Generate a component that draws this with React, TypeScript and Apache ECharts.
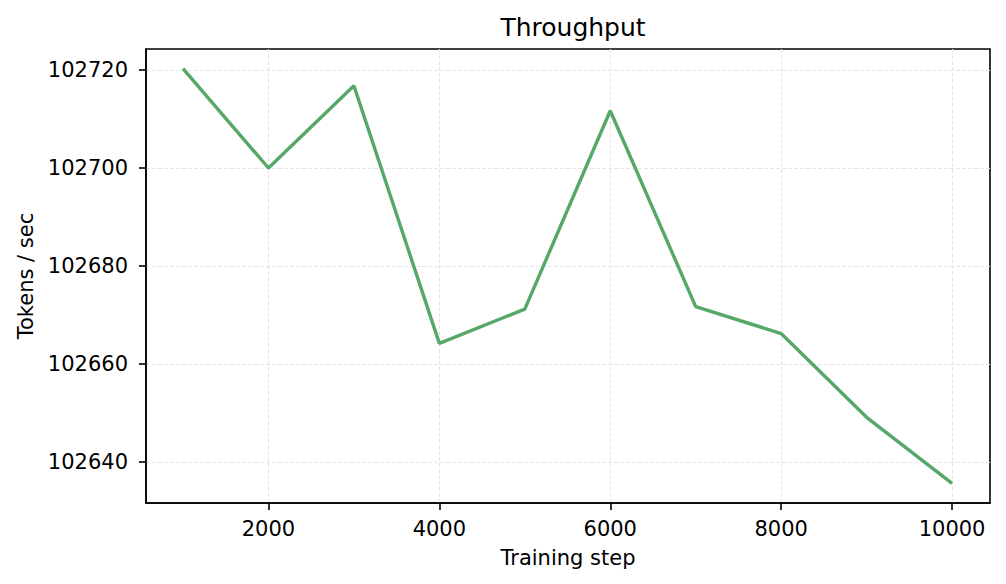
import React, { useEffect, useRef } from 'react';
import * as echarts from 'echarts';

const steps = [1000, 2000, 3000, 4000, 5000, 6000, 7000, 8000, 9000, 10000];
const tokensPerSec = [
  102720.3, 102700.0, 102716.8, 102664.2, 102671.2, 102711.7, 102671.7, 102666.2, 102649.1, 102635.6,
];
const xTicks = [2000, 4000, 6000, 8000, 10000];
const yTicks = [102640, 102660, 102680, 102700, 102720];

const FONT = 'DejaVu Sans';

const App = () => {
  const chartRef = useRef<HTMLDivElement>(null);

  useEffect(() => {
    if (!chartRef.current) return;
    const chart = echarts.init(chartRef.current, null, { renderer: 'svg' });

    const tickStyle = { color: '#000', width: 1.6 };
    const gridStyle = { color: '#e4e4e4', type: [4, 2], width: 1 };

    chart.setOption({
      animation: false,
      textStyle: { fontFamily: FONT },
      title: {
        text: 'Throughput',
        left: 568,
        top: 10,
        textAlign: 'center',
        textStyle: { fontFamily: FONT, fontSize: 25, fontWeight: 'normal', color: '#000' },
      },
      grid: { left: 146, right: 16, top: 49, bottom: 81 },
      xAxis: {
        type: 'value',
        min: 567,
        max: 10444,
        name: 'Training step',
        nameLocation: 'middle',
        nameGap: 44,
        nameTextStyle: { fontFamily: FONT, fontSize: 21, color: '#000' },
        axisLine: { show: true, onZero: false, lineStyle: tickStyle },
        axisTick: { show: true, length: 7, lineStyle: tickStyle, customValues: xTicks },
        axisLabel: {
          fontFamily: FONT,
          fontSize: 21,
          color: '#000',
          margin: 15,
          customValues: xTicks,
          formatter: (v: number) => String(v),
        },
        splitLine: { show: true, lineStyle: gridStyle },
      },
      yAxis: {
        type: 'value',
        min: 102631.6,
        max: 102724.3,
        name: 'Tokens / sec',
        nameLocation: 'middle',
        nameGap: 110,
        nameRotate: 90,
        nameTextStyle: { fontFamily: FONT, fontSize: 21, color: '#000' },
        axisLine: { show: true, onZero: false, lineStyle: tickStyle },
        axisTick: { show: true, length: 7, lineStyle: tickStyle, customValues: yTicks },
        axisLabel: {
          fontFamily: FONT,
          fontSize: 21,
          color: '#000',
          margin: 18,
          customValues: yTicks,
          formatter: (v: number) => String(v),
        },
        splitLine: { show: true, lineStyle: gridStyle },
      },
      series: [
        {
          type: 'line',
          data: steps.map((s, i) => [s, tokensPerSec[i]]),
          symbol: 'none',
          lineStyle: { color: '#55a868', width: 3.4 },
          itemStyle: { color: '#55a868' },
        },
      ],
      graphic: [
        {
          type: 'rect',
          shape: { x: 146, y: 49, width: 844, height: 454 },
          style: { fill: 'none', stroke: '#000', lineWidth: 1.6 },
          silent: true,
        },
      ],
    });

    return () => {
      chart.dispose();
    };
  }, []);

  return (
    <div
      ref={chartRef}
      style={{ position: 'fixed', left: 0, top: 0, width: 1006, height: 584, background: '#fff' }}
    />
  );
};

export default App;
